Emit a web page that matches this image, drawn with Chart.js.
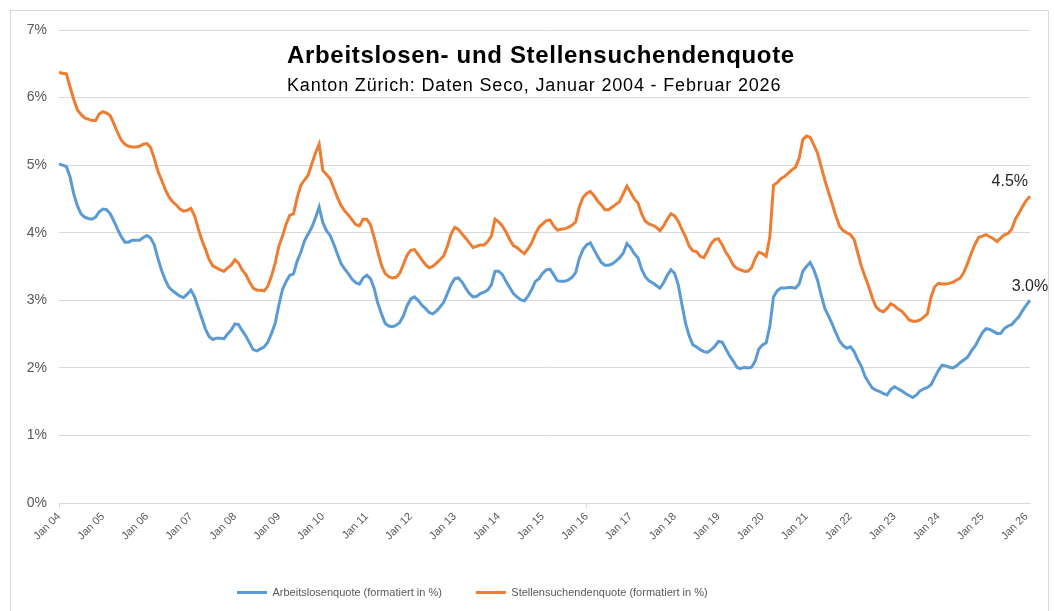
<!DOCTYPE html>
<html>
<head>
<meta charset="utf-8">
<script src="https://cdn.jsdelivr.net/npm/chart.js@4.4.1/dist/chart.umd.min.js"></script>
<style>
  html, body { margin: 0; padding: 0; background: #fff; }
</style>
</head>
<body>
<canvas id="chart" width="1054" height="611"></canvas>
<script>
// Monatswerte Kanton Zürich, Januar 2004 - Februar 2026 (in %)
const startYear = 2004;
const monthNames = ['Jan', 'Feb', 'Mär', 'Apr', 'Mai', 'Jun', 'Jul', 'Aug', 'Sep', 'Okt', 'Nov', 'Dez'];

const arbeitslosenquote = [
  5.02, 5.00, 4.98, 4.83, 4.58, 4.40, 4.28, 4.23, 4.21, 4.20, 4.23, 4.31, // 2004
  4.35, 4.34, 4.28, 4.17, 4.05, 3.94, 3.86, 3.86, 3.89, 3.89, 3.89, 3.93, // 2005
  3.96, 3.92, 3.82, 3.62, 3.44, 3.30, 3.19, 3.14, 3.10, 3.06, 3.04, 3.09, // 2006
  3.15, 3.05, 2.89, 2.73, 2.57, 2.46, 2.42, 2.44, 2.44, 2.43, 2.50, 2.56, // 2007
  2.65, 2.64, 2.55, 2.47, 2.37, 2.27, 2.25, 2.28, 2.31, 2.38, 2.51, 2.66, // 2008
  2.93, 3.16, 3.28, 3.37, 3.39, 3.58, 3.71, 3.88, 3.98, 4.08, 4.22, 4.38, // 2009
  4.15, 4.03, 3.96, 3.83, 3.68, 3.54, 3.46, 3.39, 3.31, 3.26, 3.24, 3.33, // 2010
  3.37, 3.32, 3.18, 2.96, 2.80, 2.66, 2.62, 2.61, 2.63, 2.67, 2.77, 2.92, // 2011
  3.02, 3.05, 3.00, 2.93, 2.88, 2.82, 2.80, 2.84, 2.90, 2.97, 3.10, 3.23, // 2012
  3.32, 3.33, 3.27, 3.18, 3.10, 3.05, 3.06, 3.10, 3.12, 3.15, 3.23, 3.43, // 2013
  3.43, 3.38, 3.28, 3.19, 3.10, 3.05, 3.01, 2.99, 3.06, 3.16, 3.28, 3.32, // 2014
  3.40, 3.45, 3.46, 3.38, 3.29, 3.28, 3.28, 3.30, 3.34, 3.41, 3.62, 3.75, // 2015
  3.82, 3.85, 3.75, 3.65, 3.56, 3.52, 3.52, 3.54, 3.58, 3.63, 3.70, 3.84, // 2016
  3.78, 3.69, 3.63, 3.46, 3.35, 3.29, 3.26, 3.22, 3.18, 3.26, 3.37, 3.45, // 2017
  3.40, 3.23, 2.94, 2.66, 2.47, 2.34, 2.31, 2.27, 2.24, 2.23, 2.27, 2.32, // 2018
  2.39, 2.38, 2.28, 2.18, 2.10, 2.01, 1.99, 2.01, 2.00, 2.01, 2.10, 2.28, // 2019
  2.34, 2.37, 2.62, 3.05, 3.14, 3.18, 3.18, 3.19, 3.19, 3.18, 3.24, 3.43, // 2020
  3.50, 3.56, 3.45, 3.30, 3.08, 2.88, 2.77, 2.65, 2.52, 2.40, 2.33, 2.29, // 2021
  2.31, 2.24, 2.12, 2.02, 1.87, 1.78, 1.70, 1.67, 1.65, 1.62, 1.60, 1.68, // 2022
  1.72, 1.69, 1.66, 1.62, 1.59, 1.56, 1.60, 1.66, 1.69, 1.71, 1.75, 1.86, // 2023
  1.96, 2.04, 2.03, 2.01, 2.00, 2.03, 2.08, 2.12, 2.16, 2.25, 2.32, 2.42, // 2024
  2.52, 2.58, 2.57, 2.54, 2.51, 2.51, 2.58, 2.62, 2.64, 2.70, 2.76, 2.85, // 2025
  2.93, 3.00                                                              // 2026
];

const stellensuchendenquote = [
  6.37, 6.36, 6.35, 6.16, 5.98, 5.82, 5.75, 5.70, 5.68, 5.66, 5.66, 5.76, // 2004
  5.79, 5.77, 5.73, 5.61, 5.48, 5.37, 5.31, 5.28, 5.27, 5.27, 5.28, 5.31, // 2005
  5.32, 5.26, 5.10, 4.91, 4.78, 4.64, 4.53, 4.46, 4.41, 4.35, 4.32, 4.33, // 2006
  4.36, 4.25, 4.06, 3.89, 3.75, 3.60, 3.51, 3.48, 3.45, 3.43, 3.48, 3.52, // 2007
  3.60, 3.55, 3.45, 3.38, 3.27, 3.18, 3.15, 3.15, 3.14, 3.21, 3.36, 3.55, // 2008
  3.80, 3.95, 4.13, 4.26, 4.28, 4.52, 4.70, 4.78, 4.85, 5.02, 5.18, 5.31, // 2009
  4.92, 4.86, 4.80, 4.66, 4.52, 4.40, 4.32, 4.26, 4.19, 4.12, 4.10, 4.20, // 2010
  4.20, 4.12, 3.93, 3.72, 3.52, 3.40, 3.35, 3.33, 3.34, 3.40, 3.53, 3.67, // 2011
  3.74, 3.75, 3.68, 3.60, 3.53, 3.48, 3.50, 3.55, 3.60, 3.66, 3.80, 3.98, // 2012
  4.08, 4.05, 3.98, 3.92, 3.85, 3.78, 3.80, 3.82, 3.82, 3.87, 3.95, 4.20, // 2013
  4.16, 4.10, 4.01, 3.90, 3.81, 3.78, 3.73, 3.69, 3.76, 3.85, 3.98, 4.08, // 2014
  4.13, 4.18, 4.19, 4.10, 4.04, 4.05, 4.06, 4.08, 4.11, 4.16, 4.38, 4.52, // 2015
  4.58, 4.61, 4.55, 4.47, 4.41, 4.34, 4.34, 4.38, 4.42, 4.46, 4.58, 4.69, // 2016
  4.60, 4.50, 4.44, 4.28, 4.17, 4.13, 4.11, 4.08, 4.03, 4.10, 4.20, 4.28, // 2017
  4.25, 4.17, 4.05, 3.94, 3.80, 3.73, 3.72, 3.65, 3.63, 3.73, 3.84, 3.90, // 2018
  3.91, 3.82, 3.71, 3.63, 3.52, 3.47, 3.45, 3.43, 3.43, 3.48, 3.62, 3.71, // 2019
  3.69, 3.65, 3.94, 4.70, 4.74, 4.80, 4.83, 4.88, 4.93, 4.97, 5.10, 5.38, // 2020
  5.43, 5.41, 5.30, 5.18, 4.98, 4.78, 4.60, 4.43, 4.25, 4.10, 4.03, 4.00, // 2021
  3.97, 3.90, 3.70, 3.50, 3.35, 3.20, 3.03, 2.90, 2.85, 2.83, 2.88, 2.95, // 2022
  2.92, 2.87, 2.84, 2.78, 2.71, 2.69, 2.69, 2.71, 2.75, 2.80, 3.05, 3.20, // 2023
  3.25, 3.24, 3.24, 3.25, 3.27, 3.30, 3.33, 3.42, 3.55, 3.70, 3.83, 3.93, // 2024
  3.95, 3.97, 3.94, 3.91, 3.87, 3.92, 3.97, 3.99, 4.05, 4.20, 4.29, 4.39, // 2025
  4.48, 4.54                                                              // 2026
];

// Kategorien: ein Label pro Monat, z.B. "Jan 04"
const categories = arbeitslosenquote.map((v, i) => {
  const yy = String((startYear + Math.floor(i / 12)) % 100).padStart(2, '0');
  return monthNames[i % 12] + ' ' + yy;
});
// Achsenbeschriftung nur jeweils im Januar
const tickLabels = categories.filter((c, i) => i % 12 === 0);
const yTicks = [0, 1, 2, 3, 4, 5, 6, 7];

const titleText = 'Arbeitslosen- und Stellensuchendenquote';
const subtitleText = 'Kanton Zürich: Daten Seco, Januar 2004 - Februar 2026';

const FONT = '"Liberation Sans", Arial, sans-serif';
const BLUE = '#5b9bd5';
const ORANGE = '#ed7d31';
const GRID = '#d9d9d9';
const TEXT = '#595959';

// Text so breit zeichnen wie im Original (Excel setzt die Zeichen weiter)
function spacedText(ctx, text, x, y, width) {
  ctx.letterSpacing = '0px';
  const w = ctx.measureText(text).width;
  ctx.letterSpacing = ((width - w) / text.length).toFixed(2) + 'px';
  ctx.fillText(text, x, y);
  ctx.letterSpacing = '0px';
}

const decor = {
  id: 'decor',
  afterLayout(chart) {
    // Legende links der Mitte, wie im Excel-Original
    const lg = chart.legend;
    const pad = chart.options.plugins.legend.labels.padding;
    const dy = 553 - lg.top;
    const dx = (237 - pad) - lg.left;
    lg.top += dy; lg.bottom += dy;
    lg.left += dx; lg.right += dx;
  },
  beforeDraw(chart) {
    const ctx = chart.ctx;
    ctx.save();
    ctx.strokeStyle = GRID;
    ctx.lineWidth = 1;
    ctx.strokeRect(10.5, 10.5, 1038, 610);
    ctx.restore();
  },
  afterDraw(chart) {
    const ctx = chart.ctx;
    ctx.save();
    ctx.fillStyle = '#000';
    ctx.textAlign = 'left';
    ctx.textBaseline = 'alphabetic';
    ctx.font = 'bold 24px ' + FONT;
    spacedText(ctx, titleText, 287, 63, 508);
    ctx.font = '18px ' + FONT;
    spacedText(ctx, subtitleText, 287, 91, 494);

    // Werte am Ende der Linien
    const last = categories.length - 1;
    ctx.font = '16px ' + FONT;
    ctx.fillStyle = '#262626';
    ctx.textBaseline = 'middle';
    const pB = chart.getDatasetMeta(0).data[last];
    const pO = chart.getDatasetMeta(1).data[last];
    ctx.textAlign = 'right';
    ctx.fillText(stellensuchendenquote[last].toFixed(1) + '%', pO.x - 2, pO.y - 15);
    ctx.textAlign = 'center';
    ctx.fillText(arbeitslosenquote[last].toFixed(1) + '%', pB.x, pB.y - 14);
    ctx.restore();
  }
};

new Chart(document.getElementById('chart'), {
  type: 'line',
  data: {
    labels: categories,
    datasets: [
      {
        label: 'Arbeitslosenquote (formatiert in %)',
        data: arbeitslosenquote,
        borderColor: BLUE,
        backgroundColor: BLUE,
        borderWidth: 3,
        pointRadius: 0,
        tension: 0
      },
      {
        label: 'Stellensuchendenquote (formatiert in %)',
        data: stellensuchendenquote,
        borderColor: ORANGE,
        backgroundColor: ORANGE,
        borderWidth: 3,
        pointRadius: 0,
        tension: 0
      }
    ]
  },
  options: {
    responsive: false,
    animation: false,
    layout: { padding: { left: 15, right: 24, top: 30, bottom: 0 } },
    plugins: {
      title: { display: false },
      tooltip: { enabled: false },
      legend: {
        position: 'bottom',
        align: 'start',
        labels: {
          usePointStyle: true,
          pointStyle: 'line',
          pointStyleWidth: 30,
          padding: 34,
          color: TEXT,
          font: { family: FONT, size: 11 }
        }
      }
    },
    scales: {
      x: {
        grid: {
          drawOnChartArea: false,
          drawTicks: true,
          tickLength: 5,
          color: c => (c.index % 12 === 0 ? GRID : 'rgba(0,0,0,0)')
        },
        border: { color: GRID },
        ticks: {
          autoSkip: false,
          minRotation: 45,
          maxRotation: 45,
          padding: 2,
          color: TEXT,
          font: { family: FONT, size: 11 },
          callback: (v, i) => (i % 12 === 0 ? tickLabels[i / 12] : null)
        },
        afterFit: s => { s.height = s.chart.height - s.chart.legend.height - 503; }
      },
      y: {
        min: yTicks[0],
        max: yTicks[yTicks.length - 1],
        grid: { color: GRID, drawTicks: false },
        border: { display: false },
        ticks: {
          stepSize: 1,
          padding: 12,
          color: TEXT,
          font: { family: FONT, size: 14 },
          callback: v => v + '%'
        },
        afterFit: s => { s.width = 44; }
      }
    }
  },
  plugins: [decor]
});
</script>
</body>
</html>
